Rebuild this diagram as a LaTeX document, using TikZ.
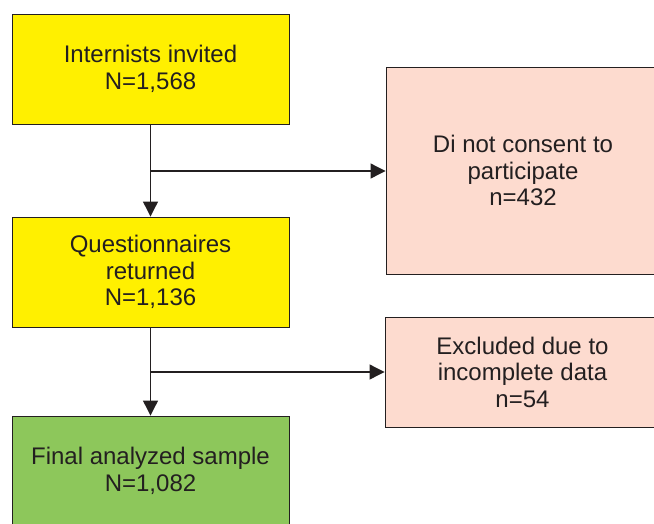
\documentclass[tikz,border=0pt]{standalone}
\usepackage{fontspec}
\setmainfont{Liberation Sans}
\usetikzlibrary{arrows.meta}
\definecolor{boxyellow}{HTML}{FFF000}
\definecolor{boxpink}{HTML}{FDDBCF}
\definecolor{boxgreen}{HTML}{8DC75B}
\definecolor{inkc}{HTML}{231F20}
\tikzset{
  boxbase/.style={draw=inkc, line width=0.9pt, text=inkc, inner sep=0pt, align=center,
    font=\fontsize{24}{26.5}\selectfont},
  ybox/.style={boxbase, fill=boxyellow, minimum width=277pt, minimum height=110pt},
  gbox/.style={boxbase, fill=boxgreen, minimum width=277pt, minimum height=110pt},
  pbox/.style={boxbase, fill=boxpink},
  arr/.style={draw=inkc, line width=1.1pt, -{Triangle[width=15pt,length=15pt]}}
}
\begin{document}
\begin{tikzpicture}[x=1pt,y=-1pt]
\useasboundingbox (0,0) rectangle (654,523);
\clip (0,0) rectangle (654,523);
\node[ybox] (b1) at (150.5,69) {Internists invited\\N=1,568};
\node[ybox] (b2) at (150.5,272) {Questionnaires\\returned\\N=1,136};
\node[gbox] (b5) at (150.5,471) {Final analyzed sample\\N=1,082};
\node[pbox, minimum width=274pt, minimum height=207pt] (b3) at (523,170.5) {Di not consent to\\participate\\n=432};
\node[pbox, minimum width=275pt, minimum height=110pt] (b4) at (522.5,372) {Excluded due to\\incomplete data\\n=54};
\coordinate (j1) at (150.5,171);
\coordinate (j2) at (150.5,372);
\draw[arr] (b1) -- (b2);
\draw[arr] (b2) -- (b5);
\draw[arr] (j1) -- (j1 -| b3.west);
\draw[arr] (j2) -- (j2 -| b4.west);
\end{tikzpicture}
\end{document}
